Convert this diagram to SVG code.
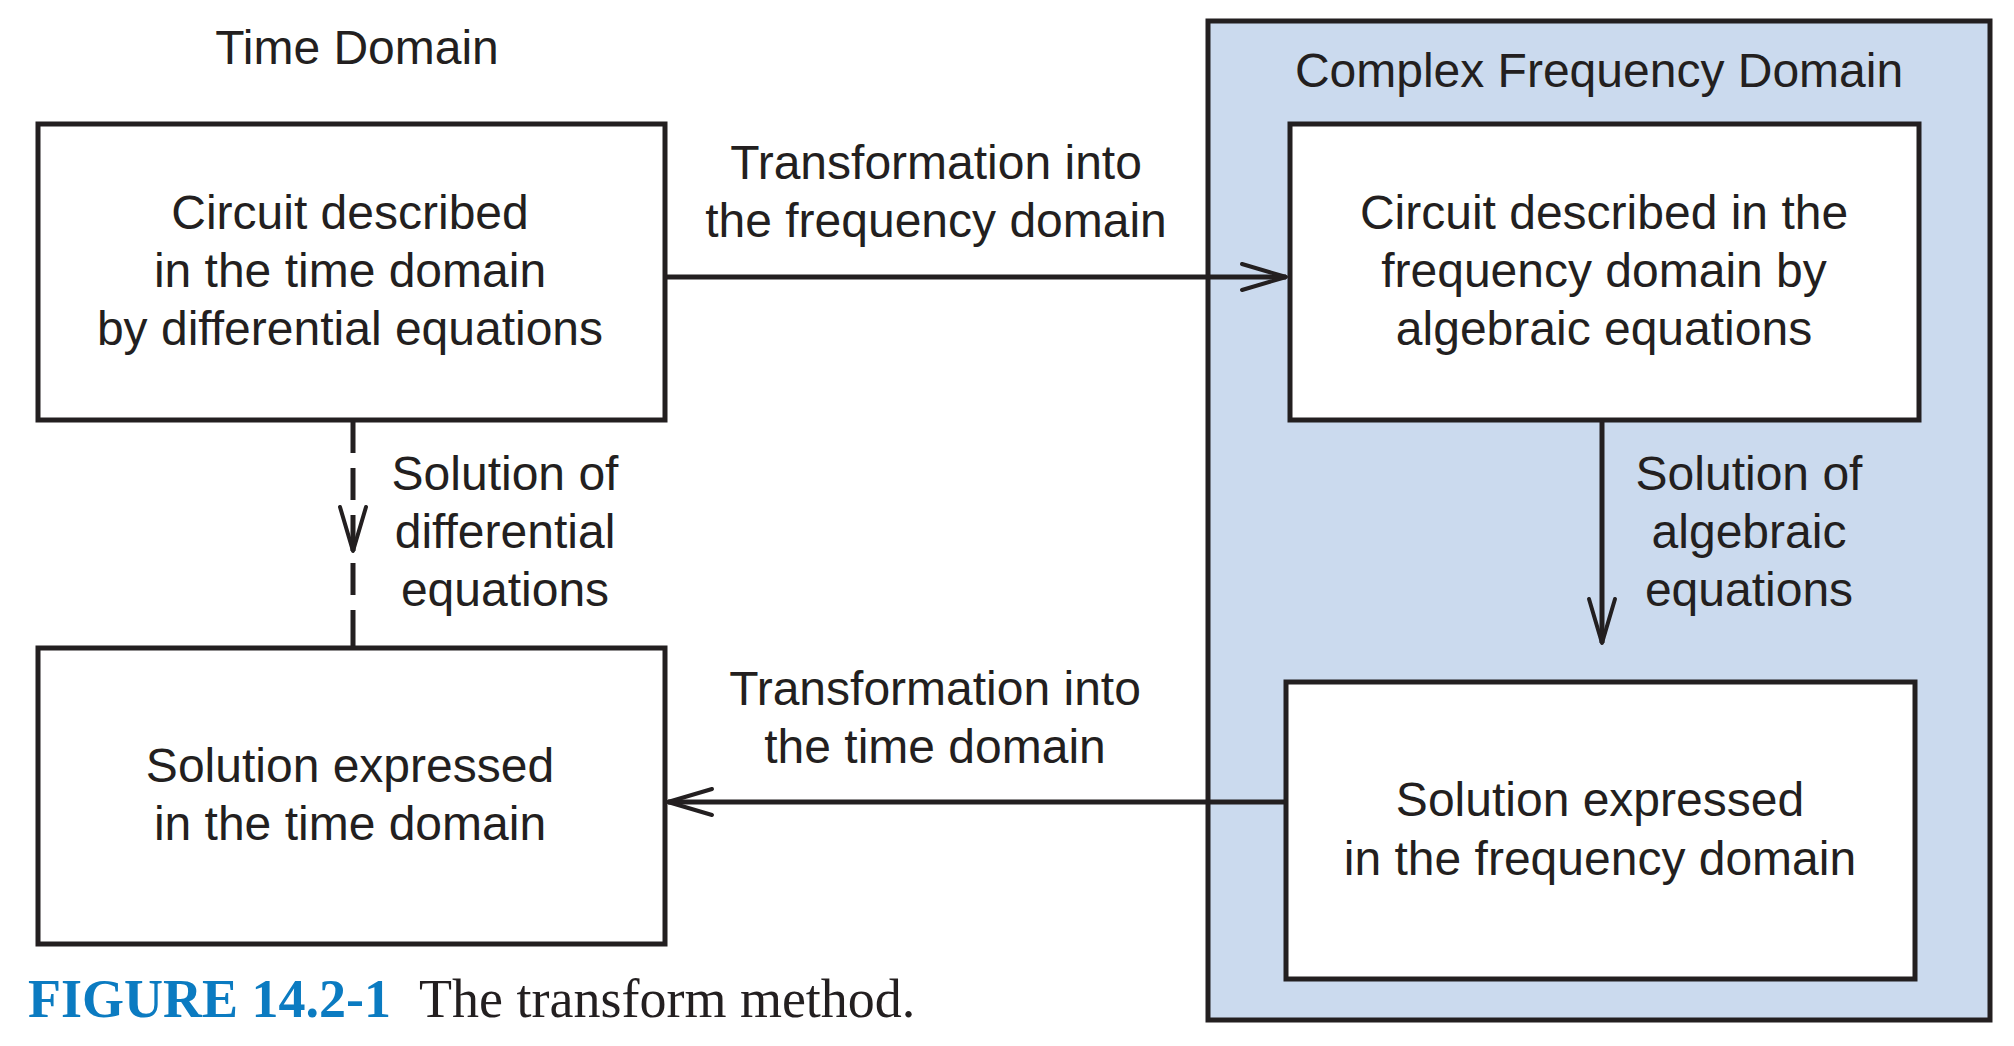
<svg xmlns="http://www.w3.org/2000/svg" width="2014" height="1046" viewBox="0 0 2014 1046">
<defs>
<style>
.t{font-family:"Liberation Sans",Arial,sans-serif;font-size:48px;fill:#231f20;text-anchor:middle}
.box{fill:#ffffff;stroke:#231f20;stroke-width:5}
.ln{stroke:#231f20;stroke-width:5;fill:none}
.ah{stroke:#231f20;stroke-width:4;fill:none;stroke-linejoin:round;stroke-linecap:round}
.cap{font-family:"Liberation Serif","Times New Roman",serif;font-size:54px}
</style>
<marker id="open" markerUnits="userSpaceOnUse" markerWidth="60" markerHeight="40" viewBox="-50 -20 60 40" refX="0" refY="0" orient="auto">
<path class="ah" d="M-44,-13 L0,0 L-44,13"/>
</marker>
</defs>
<rect width="2014" height="1046" fill="#ffffff"/>

<g id="frequency-domain-panel">
<rect x="1208" y="21" width="782" height="999" fill="#cbdaee" stroke="#231f20" stroke-width="5"/>
<text class="t" x="1599" y="87">Complex Frequency Domain</text>
</g>

<g id="time-domain-title">
<text class="t" x="357" y="64">Time Domain</text>
</g>

<g id="connectors">
<line class="ln" x1="665" y1="277" x2="1286" y2="277" marker-end="url(#open)"/>
<line class="ln" x1="1286" y1="802" x2="668" y2="802" marker-end="url(#open)"/>
<line class="ln" x1="1602" y1="420" x2="1602" y2="643" marker-end="url(#open)"/>
<path class="ln" d="M353,420 V453 M353,468 V500 M353,515 V551 M353,563 V595 M353,610 V647"/>
<path class="ah" d="M340,507 L353,551 L366,507"/>
</g>

<g id="node-time-circuit">
<rect class="box" x="38" y="124" width="627" height="296"/>
<text class="t" x="350" y="229">Circuit described</text>
<text class="t" x="350" y="287">in the time domain</text>
<text class="t" x="350" y="345">by differential equations</text>
</g>

<g id="node-freq-circuit">
<rect class="box" x="1290" y="124" width="629" height="296"/>
<text class="t" x="1604" y="229">Circuit described in the</text>
<text class="t" x="1604" y="287">frequency domain by</text>
<text class="t" x="1604" y="345">algebraic equations</text>
</g>

<g id="node-time-solution">
<rect class="box" x="38" y="648" width="627" height="296"/>
<text class="t" x="350" y="782">Solution expressed</text>
<text class="t" x="350" y="840">in the time domain</text>
</g>

<g id="node-freq-solution">
<rect class="box" x="1286" y="682" width="629" height="297"/>
<text class="t" x="1600" y="816">Solution expressed</text>
<text class="t" x="1600" y="875">in the frequency domain</text>
</g>

<g id="labels">
<text class="t" x="936" y="179">Transformation into</text>
<text class="t" x="936" y="237">the frequency domain</text>
<text class="t" x="505" y="490">Solution of</text>
<text class="t" x="505" y="548">differential</text>
<text class="t" x="505" y="606">equations</text>
<text class="t" x="1749" y="490">Solution of</text>
<text class="t" x="1749" y="548">algebraic</text>
<text class="t" x="1749" y="606">equations</text>
<text class="t" x="935" y="705">Transformation into</text>
<text class="t" x="935" y="763">the time domain</text>
</g>

<g id="caption">
<text class="cap" x="28" y="1017"><tspan font-weight="bold" fill="#0b7bc1">FIGURE 14.2-1</tspan><tspan fill="#231f20" x="419">The transform method.</tspan></text>
</g>
</svg>
